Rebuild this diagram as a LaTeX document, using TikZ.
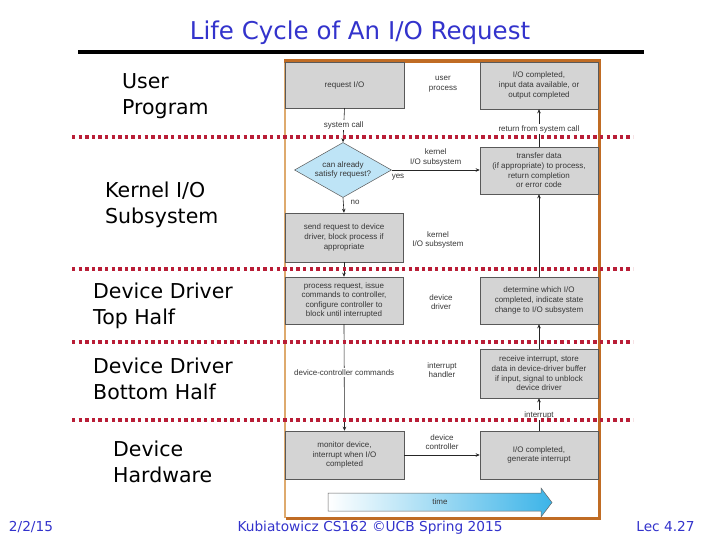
\documentclass[tikz,border=0pt]{standalone}
\usepackage{fontspec}
\usetikzlibrary{shapes.geometric,arrows.meta}
\newfontfamily\comic{DejaVu Sans}
\newfontfamily\helv{Liberation Sans}
\definecolor{titleblue}{RGB}{51,51,204}
\definecolor{dotred}{RGB}{185,30,55}
\definecolor{framebrown}{RGB}{192,108,36}
\definecolor{framelight}{RGB}{222,170,110}
\definecolor{boxgray}{RGB}{212,212,212}
\definecolor{diablue}{RGB}{190,228,246}
\definecolor{timeblue}{RGB}{60,180,232}
\definecolor{txtgray}{RGB}{55,55,55}
\begin{document}
\begin{tikzpicture}[x=1pt,y=-1pt,
  box/.style={rectangle,fill=boxgray,draw=black!65,line width=0.5pt,align=center,
    inner sep=0pt,minimum width=118pt,minimum height=47pt,text=txtgray,
    font=\helv\fontsize{8}{9.6}\selectfont},
  small/.style={align=center,inner sep=1pt,text=txtgray,font=\helv\fontsize{8}{9.6}\selectfont},
  lbl/.style={small,fill=white,inner sep=1.5pt},
  arr/.style={draw=black!85,line width=0.6pt,-{Stealth[length=4pt,width=3.5pt]}},
  lane/.style={anchor=west,align=left,font=\comic\fontsize{20.5}{26}\selectfont,text=black,inner sep=0pt},
  foot/.style={anchor=base,font=\comic\fontsize{13.7}{16}\selectfont,text=titleblue,inner sep=0pt},
  dotline/.style={draw=dotred,line width=4pt,dash pattern=on 3.3pt off 3.3pt}]
\useasboundingbox (0,0) rectangle (720,540);
\fill[white] (0,0) rectangle (720,540);

% title
\node[font=\comic\fontsize{24.5}{28}\selectfont,text=titleblue,inner sep=0pt] (title) at (360,33) {Life Cycle of An I/O Request};
\fill[black] (78,50.5) rectangle (644,54.5);

% frame
\draw[framelight,line width=1.5pt] (285,61) -- (285,518);
\draw[framebrown,line width=3.5pt] (284,61) -- (599.5,61) -- (599.5,518.5) -- (286,518.5);

% lane labels
\node[lane] (lu) at (122,96.5) {User\\Program};
\node[lane] (lk) at (105,205) {Kernel I/O\\Subsystem};
\node[lane] (lt) at (93,306) {Device Driver\\Top Half};
\node[lane] (lb) at (93,379) {Device Driver\\Bottom Half};
\node[lane] (lh) at (113,462) {Device\\Hardware};

% boxes
\node[box,minimum width=119pt,minimum height=46pt] (req) at (344.5,85) {request I/O};
\node[box] (iocomp) at (539,85.5) {I/O completed,\\input data available, or\\output completed};
\node[box] (transfer) at (539,170.5) {transfer data\\(if appropriate) to process,\\return completion\\or error code};
\node[box,minimum height=49pt] (send) at (344,237.5) {send request to device\\driver, block process if\\appropriate};
\node[box] (process) at (344,300.5) {process request, issue\\commands to controller,\\configure controller to\\block until interrupted};
\node[box] (determine) at (539,300.5) {determine which I/O\\completed, indicate state\\change to I/O subsystem};
\node[box,minimum height=49pt] (receive) at (539,373.5) {receive interrupt, store\\data in device-driver buffer\\if input, signal to unblock\\device driver};
\node[box,minimum width=119pt,minimum height=48pt] (monitor) at (344.5,455) {monitor device,\\interrupt when I/O\\completed};
\node[box,minimum height=48pt] (gen) at (539,455) {I/O completed,\\generate interrupt};

\node[shape=diamond,fill=diablue,draw=black!65,line width=0.5pt,aspect=1.76,
  minimum width=97pt,minimum height=55pt,inner sep=0pt,align=center,text=txtgray,
  font=\helv\fontsize{8}{9.6}\selectfont] (dia) at (343,170) {can already\\satisfy request?};

% free labels
\node[small] (tuser) at (443,84) {user\\process};
\node[small] (tkern) at (438,240) {kernel\\I/O subsystem};
\node[small] (tdrv) at (441,302) {device\\driver};
\node[small] (tint) at (442,370) {interrupt\\handler};

% connectors
\draw[arr] (req.south) -- node[lbl]{system call} (dia.north);
\draw[arr] (dia.east) -- node[small,above=3pt]{kernel\\I/O subsystem} (dia.east -| transfer.west);
\node[small] (yes) at (398,177) {yes};
\draw[arr] (dia.south) -- (send.north);
\node[small] (no) at (355,202) {no};
\draw[arr] (send.south) -- (process.north);
\draw[arr] (process.south) -- node[lbl,pos=0.45]{device-controller commands} (monitor.north);
\draw[arr] (monitor.east) -- node[small,above=4pt]{device\\controller} (monitor.east -| gen.west);
\draw[arr] (gen.north) -- node[lbl,pos=0.48]{interrupt} (receive.south);
\draw[arr] (receive.north) -- (determine.south);
\draw[arr] (determine.north) -- (transfer.south);
\draw[arr] (transfer.north) -- node[lbl,pos=0.47]{return from system call} (iocomp.south);

% time arrow
\shade[left color=white,right color=timeblue] (328,493) -- (541,493) -- (541,488) -- (552,502.5) -- (541,517) -- (541,511) -- (328,511) -- cycle;
\draw[black!60,line width=0.5pt] (328,493) -- (541,493) -- (541,488) -- (552,502.5) -- (541,517) -- (541,511) -- (328,511) -- cycle;
\node[small] (time) at (440,502) {time};

% lane separators
\foreach \yy in {137,269,342,420} \draw[dotline] (72,\yy) -- (633,\yy);

% footer
\node[foot] (date) at (31,531.5) {2/2/15};
\node[foot] (auth) at (370,531.5) {Kubiatowicz CS162 ©UCB Spring 2015};
\node[foot] (lec) at (665.5,531.5) {Lec 4.27};
\end{tikzpicture}
\end{document}
